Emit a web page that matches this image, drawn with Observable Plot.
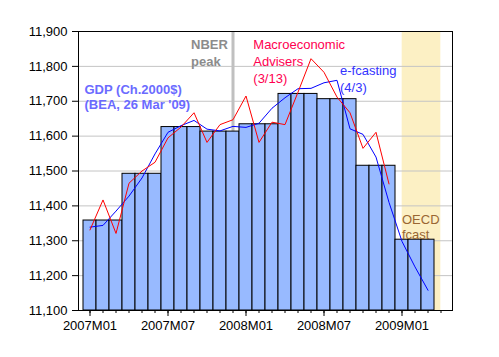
<!DOCTYPE html>
<html>
<head>
<meta charset="utf-8">
<script src="https://cdn.jsdelivr.net/npm/d3@7"></script>
<script src="https://cdn.jsdelivr.net/npm/@observablehq/plot@0.6"></script>
<style>
  html, body { margin: 0; padding: 0; background: #fff; }
  #chart { width: 499px; height: 357px; }
</style>
</head>
<body>
<div id="chart"></div>
<script>
// ---- Data ----
const months = [
  "2007M01","2007M02","2007M03","2007M04","2007M05","2007M06",
  "2007M07","2007M08","2007M09","2007M10","2007M11","2007M12",
  "2008M01","2008M02","2008M03","2008M04","2008M05","2008M06",
  "2008M07","2008M08","2008M09","2008M10","2008M11","2008M12",
  "2009M01","2009M02","2009M03","2009M04"
];
const labeledMonths = ["2007M01","2007M07","2008M01","2008M07","2009M01"];
const yTicks = [11100, 11200, 11300, 11400, 11500, 11600, 11700, 11800, 11900];

// Quarterly GDP (Ch.2000$, BEA 26 Mar '09) + OECD forecast for 2009Q1
const gdpQuarters = ["2007Q1","2007Q2","2007Q3","2007Q4","2008Q1","2008Q2","2008Q3","2008Q4","2009Q1"];
const gdpValues   = [11358, 11492, 11626, 11613, 11634, 11721, 11706, 11515, 11303];

// Macroeconomic Advisers monthly GDP (3/13), 2007M01-2008M12
const maValues = [
  11331, 11417, 11321, 11465, 11500, 11525, 11595, 11626, 11667, 11582, 11633, 11647,
  11715, 11582, 11640, 11633, 11726, 11822, 11783, 11712, 11667, 11565, 11611, 11463
];

// e-forecasting monthly GDP (4/3), 2007M01-2009M03
const efValues = [
  11339, 11344, 11385, 11428, 11480, 11549, 11611, 11630, 11645, 11620, 11615, 11628,
  11625, 11637, 11680, 11710, 11736, 11737, 11753, 11760, 11621, 11605, 11540, 11410,
  11298, 11225, 11158
];

// Annotations
const nberPeak = ["2007M12"];
const oecdSpan = [{start: "2009M01", end: "2009M04"}];

// ---- Build tables ----
const gdpMonthly = [];
gdpQuarters.forEach((q, qi) => {
  for (let k = 0; k < 3; k++) gdpMonthly.push({month: months[qi * 3 + k], value: gdpValues[qi]});
});
const maData = maValues.map((v, i) => ({month: months[i], value: v}));
const efData = efValues.map((v, i) => ({month: months[i], value: v}));
const yMin = yTicks[0];

const notes = [
  {month: "2007M01", value: 11752, dx: -5.5, text: "GDP (Ch.2000$)\n(BEA, 26 Mar '09)", fill: "#6b6bff", weight: "bold", lh: 1.18},
  {month: "2007M09", value: 11886, dx: -3, text: "NBER\npeak", fill: "#8c8c8c", weight: "bold", lh: 1.35},
  {month: "2008M01", value: 11883, dx: 7.3, text: "Macroeconomic\nAdvisers\n(3/13)", fill: "#ff0050", weight: "normal", lh: 1.3},
  {month: "2008M08", value: 11812, dx: 3, text: "e-fcasting\n(4/3)", fill: "#3333ff", weight: "normal", lh: 1.35},
  {month: "2009M01", value: 11382, dx: 0, text: "OECD\nfcast", fill: "#996633", weight: "normal", lh: 1.23}
];

const font = "Arial, 'Liberation Sans', sans-serif";
const W = 499, H = 357, mL = 78, mR = 47, mT = 31, mB = 47;
const halfBand = (W - mL - mR) / months.length / 2;

const chart = Plot.plot({
  width: W,
  height: H,
  marginTop: mT,
  marginBottom: mB,
  marginLeft: mL,
  marginRight: mR,
  style: {fontFamily: font, fontSize: "13px", background: "#fff", color: "#000", overflow: "visible"},
  x: {type: "band", domain: months, padding: 0, axis: null},
  y: {domain: [yTicks[0], yTicks[yTicks.length - 1]], axis: null},
  marks: [
    Plot.rect(oecdSpan, {x1: "start", x2: "end", y1: yTicks[0], y2: yTicks[yTicks.length - 1],
      insetLeft: halfBand, insetRight: halfBand, fill: "#fcf0c4"}),
    Plot.ruleY(yTicks, {stroke: "#c4c4c4", strokeWidth: 1}),
    Plot.ruleX(nberPeak, {stroke: "#c0c0c0", strokeWidth: 3}),
    Plot.barY(gdpMonthly, {x: "month", y1: () => yMin, y2: "value", fill: "#98baff", stroke: "#000", strokeWidth: 1}),
    Plot.line(efData, {x: "month", y: "value", stroke: "#0000ff", strokeWidth: 1}),
    Plot.line(maData, {x: "month", y: "value", stroke: "#ff0000", strokeWidth: 1}),
    ...notes.map(n => Plot.text([n], {
      x: "month", y: "value", dx: n.dx, text: "text", fill: n.fill, fontWeight: n.weight,
      textAnchor: "start", lineAnchor: "top", lineHeight: n.lh, fontSize: 13
    })),
    Plot.axisY({ticks: yTicks, tickFormat: d3.format(","), tickSize: 6, tickPadding: 5, label: null, fontSize: 13}),
    Plot.axisX({ticks: months, tickSize: 3, tickFormat: () => "", label: null}),
    Plot.axisX({ticks: labeledMonths, tickSize: 6, tickPadding: 4, label: null, fontSize: 13}),
    Plot.frame({stroke: "#000", strokeWidth: 1})
  ]
});
document.getElementById("chart").appendChild(chart);
</script>
</body>
</html>
